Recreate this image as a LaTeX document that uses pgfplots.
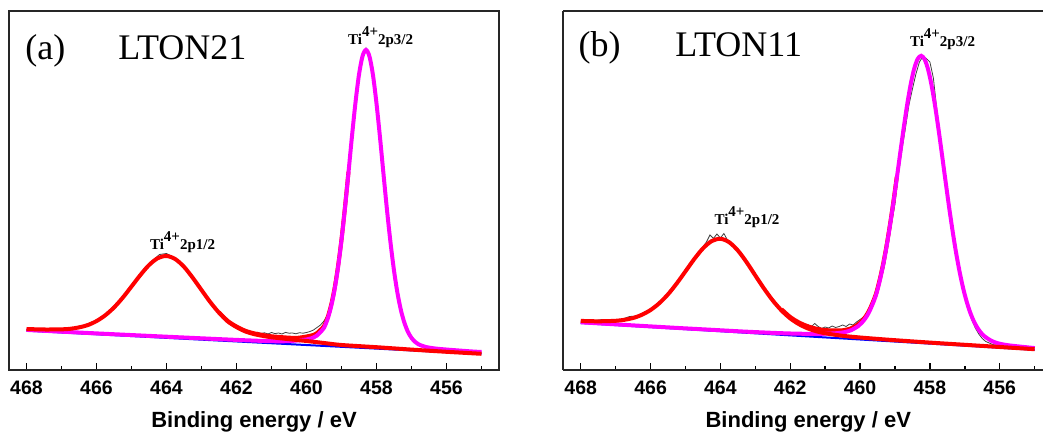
\documentclass[border=0pt]{standalone}
\usepackage{fontspec}
\setmainfont{Liberation Serif}
\setsansfont{Liberation Sans}
\usepackage{pgfplots}
\pgfplotsset{compat=1.18}
\definecolor{mag}{RGB}{255,0,255}
\definecolor{rd}{RGB}{255,0,0}
\definecolor{bl}{RGB}{0,0,255}
\pgfplotsset{
  xps/.style={
    scale only axis, height=179.5pt,
    x dir=reverse, ymin=0, ymax=359,
    xtick={456,458,...,468}, minor xtick={455,457,...,467},
    xtick pos=bottom, tick align=inside, ytick=\empty,
    major tick length=3.5pt, minor tick length=2pt,
    tick style={black, line width=0.7pt},
    axis line style={black!85, line width=0.9pt},
    /pgf/number format/assume math mode=true,
    xticklabel style={font=\fontsize{9.75}{10}\selectfont\bfseries\sffamily, yshift=-1.8pt},
    xlabel={Binding energy / eV},
    xlabel style={font=\fontsize{11}{12}\selectfont\bfseries\sffamily, anchor=base, yshift=0pt},
    data/.style={black!75, line width=0.4pt},
    base/.style={bl, line width=1pt},
    comp1/.style={rd, line width=2pt, smooth},
    comp2/.style={mag, line width=2pt, smooth},
  }
}
\newcommand{\pk}[2]{\fontsize{7.5}{8}\selectfont\bfseries Ti\raisebox{4.15pt}{4+}2p#1/#2}
\begin{document}
\begin{tikzpicture}
\useasboundingbox (0,0) rectangle (521.5pt,-218.5pt);
% ---------------- (a)
\begin{axis}[xps, at={(4.5pt,-5.5pt)}, anchor=north west, width=245pt,
  xmin=454.5, xmax=468.5,
  xlabel style={at={(axis description cs:0.5,0)}, yshift=-29pt}]
\addplot[data] coordinates {
(468,40.5) (467.8,40.0) (467.6,40.8) (467.4,40.3) (467.2,40.9) (467.0,41.5) (466.8,41.2) (466.6,43.0) (466.4,44.2) (466.2,47.0)
(466.0,49.8) (465.8,54.5) (465.6,60.5) (465.4,67.8) (465.2,76.0) (465.0,85.0) (464.8,94.0) (464.6,103.0) (464.4,109.5) (464.2,115.5)
(464.0,116.5) (463.8,113.0) (463.6,107.5) (463.4,99.0) (463.2,91.0) (463.0,81.5) (462.8,71.0) (462.6,62.5) (462.4,54.5) (462.2,48.5)
(462.0,43.5) (461.9,41.5) (461.8,39.5) (461.7,38.5) (461.6,37.5) (461.5,36.3) (461.4,37.8) (461.3,36.5) (461.2,37.2) (461.1,36.0)
(461.0,37.5) (460.9,36.4) (460.8,37.0) (460.7,36.0) (460.6,37.6) (460.5,36.8) (460.4,37.0) (460.3,36.2) (460.2,37.3) (460.1,36.8)
(460.0,37.5) (459.9,38.5) (459.8,40.0) (459.7,42.5) (459.6,45.0) (459.5,49.0) (459.4,55.0) (459.3,65.0) (459.2,80.0) (459.1,101.0)
(459.0,128.0) (458.9,160.0) (458.8,196.0) (458.7,233.0) (458.6,266.0) (458.5,294.0) (458.4,313.0) (458.3,322.0) (458.2,314.0) (458.1,295.0)
(458.0,266.0) (457.9,232.0) (457.8,195.0) (457.7,159.0) (457.6,126.0) (457.5,98.0) (457.4,75.0) (457.3,58.0) (457.2,45.0) (457.0,31.0)
(456.8,25.5) (456.6,23.0) (456.4,21.5) (456.2,21.0) (456.0,20.2) (455.8,19.6) (455.6,19.4) (455.4,18.8) (455.2,18.3) (455.0,18.0)
};
\addplot[base] coordinates {(468,39.3) (455,16.0)};
\addplot[comp1] coordinates {
(462.5,57.7) (462.25,49.1) (462,43.5) (461.75,39.3) (461.5,36.7) (461.25,35.0) (461,33.7) (460.75,33.0) (460.5,32.3) (460.25,32.2)
(460,33.5) (459.8,35.1) (459.7,36.9) (459.6,40.2) (459.5,44.0) (459.4,52.3) (459.3,64.5) (459.2,81.3) (459.1,103.5) (459,130.6)
(458.9,163) (458.8,198.3)
};
\addplot[comp2] coordinates {
(468,40.1) (466,36.6) (464,33.3) (462,30.1) (461,28.8) (460.5,28.9) (460,30.5) (459.8,32.5) (459.7,34.5) (459.6,38.0)
(459.5,42.2) (459.4,50.7) (459.3,63.0) (459.2,79.9) (459.1,102.3) (459.0,129.9) (458.9,162.1) (458.8,197.6) (458.7,234.0) (458.6,267.6)
(458.5,295.4) (458.4,313.7) (458.3,320.1) (458.2,313.4) (458.1,294.7) (458.0,266.5) (457.9,232.6) (457.8,195.9) (457.7,160.0) (457.6,127.5)
(457.5,99.5) (457.4,76.8) (457.3,59.5) (457.2,46.9) (457.1,38.0) (457.0,32.1) (456.9,28.2) (456.8,25.7) (456.6,23.1) (456.3,21.4)
(455.8,19.9) (455.3,18.6) (455,18.0)
};
\addplot[comp1] coordinates {
(468,41.0) (467.5,40.5) (467,40.65) (466.75,41.2) (466.5,42.6) (466.25,44.9) (466,48.9) (465.75,54.7) (465.5,62.5) (465.25,72.3)
(465,83.5) (464.75,94.8) (464.5,104.9) (464.25,111.8) (464,114.0) (463.75,110.9) (463.5,103.2) (463.25,92.2) (463,80.0) (462.75,67.9)
(462.5,57.3) (462.25,48.6) (462,42.9) (461.75,38.6) (461.5,35.9) (461.25,34.1) (461,32.7) (460.5,30.8) (460,29.0) (459.5,27.0)
(459,25.0) (458,22.8) (457,20.4) (456,18.2) (455,16.2)
};
\node[anchor=base west, inner sep=0pt, font=\fontsize{18}{20}\selectfont] at (rel axis cs:0.0327,0.8635) {(a)};
\node[anchor=base west, inner sep=0pt, font=\fontsize{18}{20}\selectfont] at (rel axis cs:0.2224,0.8635) {LTON21};
\node[anchor=base west, inner sep=0pt] at (axis cs:458.82,325) {\pk{3}{2}};
\node[anchor=base west, inner sep=0pt] at (axis cs:464.48,120) {\pk{1}{2}};
\end{axis}
% ---------------- (b)
\begin{axis}[xps, at={(281.65pt,-5.5pt)}, anchor=north west, width=239.85pt,
  xmin=454.76, xmax=468.5, axis x line*=box, axis y line*=left,
  xlabel style={at={(axis description cs:0.5107,0)}, yshift=-29pt}]
\addplot[data] coordinates {
(468,49.0) (467.8,49.6) (467.6,49.3) (467.4,50.4) (467.2,49.8) (467.0,50.2) (466.8,51.0) (466.6,53.5) (466.4,54.0) (466.2,57.5)
(466.0,61.0) (465.8,66.5) (465.6,73.0) (465.4,81.5) (465.2,89.0) (465.0,100.5) (464.8,110.0) (464.6,118.5) (464.4,128.0) (464.3,135.0)
(464.2,131.5) (464.1,136.0) (464.0,132.0) (463.9,136.5) (463.8,130.0) (463.6,124.0) (463.4,116.5) (463.2,105.5) (463.0,95.0) (462.8,84.0)
(462.6,74.5) (462.4,65.0) (462.2,58.0) (462.0,52.5) (461.8,48.0) (461.7,46.5) (461.6,44.0) (461.5,45.5) (461.4,43.0) (461.3,46.5)
(461.2,43.5) (461.1,41.5) (461.0,43.0) (460.9,42.0) (460.8,44.0) (460.7,42.5) (460.6,43.5) (460.5,45.0) (460.4,43.5) (460.3,46.0)
(460.2,45.0) (460.1,48.0) (460.0,50.5) (459.9,53.0) (459.8,56.0) (459.7,62.0) (459.6,68.0) (459.5,76.0) (459.4,90.0) (459.3,104.0)
(459.2,124.0) (459.1,146.0) (459.0,166.0) (458.9,196.0) (458.8,220.0) (458.7,242.0) (458.6,265.0) (458.5,281.0) (458.4,296.0) (458.3,308.0)
(458.2,313.5) (458.1,311.5) (458.0,308.0) (457.9,292.0) (457.8,260.0) (457.7,234.0) (457.6,206.0) (457.5,180.0) (457.4,154.0) (457.3,131.0)
(457.2,110.0) (457.1,91.0) (457.0,74.0) (456.9,60.0) (456.8,50.0) (456.7,42.0) (456.6,36.0) (456.5,31.5) (456.4,28.5) (456.2,25.5)
(456.0,24.0) (455.8,23.2) (455.6,22.5) (455.4,21.8) (455.2,21.3) (455.0,20.8)
};
\addplot[base] coordinates {(468,47.0) (455,20.2)};
\addplot[comp1] coordinates {
(462.25,60.8) (462,53.0) (461.75,47.6) (461.5,43.8) (461.25,41.3) (461,39.9) (460.75,39.6) (460.5,39.7) (460.25,41.8) (460.05,45.8)
(459.95,49.0) (459.85,53.2) (459.75,58.9) (459.65,66.6) (459.55,75.6) (459.45,88.6) (459.35,104.3) (459.25,122.7) (459.15,143.9) (459.05,167.3)
(458.95,193.0)
};
\addplot[comp2] coordinates {
(468,47.7) (466.25,44.1) (465.25,42.1) (464.25,40.2) (463.25,38.3) (462.25,36.8) (461.75,36.3) (461.25,36.1) (460.75,36.6) (460.45,37.8)
(460.25,39.9) (460.05,44.0) (459.95,47.3) (459.85,51.6) (459.75,57.3) (459.65,65.1) (459.55,74.2) (459.45,87.2) (459.35,103.0) (459.25,121.5)
(459.15,142.8) (459.05,166.2) (458.95,191.3) (458.85,216.9) (458.75,242.1) (458.65,265.5) (458.55,285.6) (458.45,301.2) (458.35,311.0) (458.25,314.2)
(458.15,310.6) (458.05,300.4) (457.95,284.4) (457.85,263.8) (457.75,240.0) (457.65,214.4) (457.55,188.4) (457.45,162.9) (457.35,139.1) (457.25,117.3)
(457.15,98.4) (457.05,82.2) (456.95,68.8) (456.85,57.9) (456.75,49.4) (456.65,42.8) (456.55,37.8) (456.45,34.1) (456.25,29.4) (456.05,26.7)
(455.75,24.7) (455.25,22.8) (455,21.9)
};
\addplot[comp1] coordinates {
(468,49.1) (467.5,48.7) (467,49.2) (466.75,50.2) (466.5,52.0) (466.25,55.2) (466,60.0) (465.75,66.8) (465.5,75.7) (465.25,86.6)
(465,98.7) (464.75,110.9) (464.5,121.6) (464.25,128.9) (464,131.2) (463.75,127.8) (463.5,119.5) (463.25,107.8) (463,94.5) (462.75,81.4)
(462.5,69.5) (462.25,59.5) (462,51.6) (461.75,45.8) (461.5,41.6) (461.25,38.7) (461,36.7) (460.5,34.2) (460,32.5) (459.5,31.1)
(459,29.8) (458,27.4) (457,25.2) (456,23.0) (455,20.8)
};
\node[anchor=base west, inner sep=0pt, font=\fontsize{18}{20}\selectfont] at (rel axis cs:0.0313,0.8719) {(b)};
\node[anchor=base west, inner sep=0pt, font=\fontsize{18}{20}\selectfont] at (rel axis cs:0.2329,0.8719) {LTON11};
\node[anchor=base west, inner sep=0pt] at (axis cs:458.58,323.3) {\pk{3}{2}};
\node[anchor=base west, inner sep=0pt] at (axis cs:464.18,145) {\pk{1}{2}};
\end{axis}
\end{tikzpicture}
\end{document}
